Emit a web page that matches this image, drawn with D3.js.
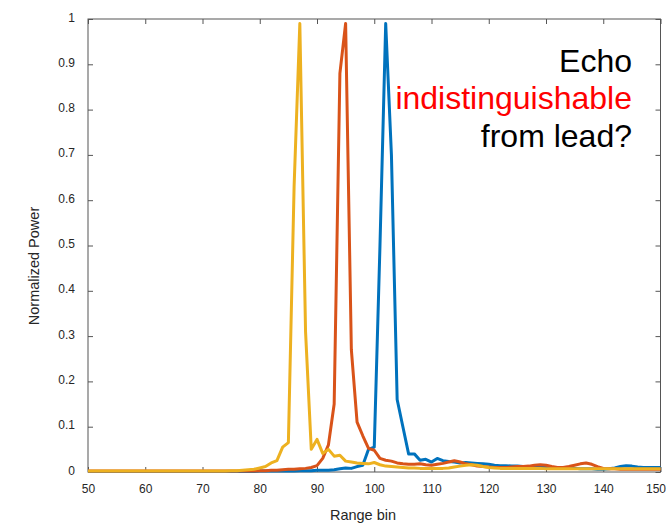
<!DOCTYPE html>
<html>
<head>
<meta charset="utf-8">
<script src="https://cdn.jsdelivr.net/npm/d3@7/dist/d3.min.js"></script>
<style>
  html, body { margin: 0; padding: 0; background: #fff; }
  svg { display: block; font-family: "Liberation Sans", Arial, Helvetica, sans-serif; }
</style>
</head>
<body>
<svg id="chart" width="666" height="523"></svg>
<script>
// ---- data ----
const binStart = 50;
const binEnd = 150;
const xTicks = [50, 60, 70, 80, 90, 100, 110, 120, 130, 140, 150];
const yTicks = [0, 0.1, 0.2, 0.3, 0.4, 0.5, 0.6, 0.7, 0.8, 0.9, 1];
const yTickLabels = ["0", "0.1", "0.2", "0.3", "0.4", "0.5", "0.6", "0.7", "0.8", "0.9", "1"];

// bins 50..150
const seriesBlue = [
  0.001,0.001,0.001,0.001,0.001,0.001,0.001,0.001,0.001,0.001, // 50-59
  0.001,0.001,0.001,0.001,0.001,0.001,0.001,0.001,0.001,0.001, // 60-69
  0.001,0.001,0.001,0.001,0.001,0.001,0.001,0.001,0.001,0.001, // 70-79
  0.002,0.002,0.002,0.002,0.002,0.002,0.002,0.003,0.003,0.003, // 80-89
  0.004,0.004,0.004,0.005,0.007,0.009,0.008,0.012,0.015,0.05,  // 90-99
  0.055,0.5,0.99,0.70,0.16,0.10,0.04,0.04,0.026,0.028,         // 100-109
  0.022,0.03,0.025,0.023,0.022,0.02,0.021,0.02,0.019,0.018,    // 110-119
  0.017,0.015,0.014,0.014,0.013,0.013,0.012,0.012,0.011,0.01,  // 120-129
  0.01,0.009,0.009,0.008,0.008,0.008,0.007,0.007,0.007,0.006,  // 130-139
  0.006,0.007,0.009,0.012,0.014,0.013,0.011,0.01,0.01,0.01,    // 140-149
  0.01                                                          // 150
];
const seriesOrange = [
  0.002,0.002,0.002,0.002,0.002,0.002,0.002,0.002,0.002,0.002, // 50-59
  0.002,0.002,0.002,0.002,0.002,0.002,0.002,0.002,0.002,0.002, // 60-69
  0.002,0.002,0.002,0.002,0.002,0.002,0.002,0.002,0.002,0.002, // 70-79
  0.003,0.003,0.004,0.004,0.005,0.006,0.006,0.007,0.008,0.01,  // 80-89
  0.014,0.03,0.06,0.15,0.88,0.99,0.27,0.11,0.08,0.052,         // 90-99
  0.048,0.03,0.026,0.024,0.02,0.018,0.017,0.017,0.018,0.016,   // 100-109
  0.015,0.017,0.019,0.022,0.025,0.022,0.018,0.016,0.013,0.012, // 110-119
  0.011,0.01,0.01,0.01,0.011,0.012,0.012,0.013,0.015,0.016,    // 120-129
  0.015,0.012,0.01,0.01,0.012,0.015,0.018,0.02,0.017,0.012,    // 130-139
  0.008,0.007,0.007,0.006,0.006,0.006,0.006,0.006,0.006,0.006, // 140-149
  0.006                                                         // 150
];
const seriesYellow = [
  0.002,0.002,0.002,0.002,0.002,0.002,0.002,0.002,0.002,0.002, // 50-59
  0.002,0.002,0.002,0.002,0.002,0.002,0.002,0.002,0.002,0.002, // 60-69
  0.002,0.002,0.002,0.002,0.002,0.003,0.003,0.004,0.005,0.006, // 70-79
  0.009,0.012,0.02,0.025,0.055,0.065,0.63,0.99,0.31,0.05,      // 80-89
  0.072,0.041,0.05,0.035,0.037,0.024,0.022,0.02,0.019,0.018,   // 90-99
  0.021,0.016,0.013,0.012,0.011,0.01,0.009,0.009,0.008,0.008,  // 100-109
  0.008,0.008,0.008,0.009,0.011,0.013,0.015,0.016,0.015,0.012, // 110-119
  0.01,0.009,0.008,0.008,0.008,0.008,0.008,0.008,0.008,0.008,  // 120-129
  0.007,0.007,0.007,0.007,0.007,0.007,0.007,0.007,0.007,0.007, // 130-139
  0.007,0.007,0.007,0.007,0.007,0.007,0.007,0.007,0.007,0.007, // 140-149
  0.007                                                         // 150
];
const seriesNames = ["blue", "orange", "yellow"];
const seriesColors = ["#0072BD", "#D95319", "#EDB120"];
const titleLines = [
  { text: "Echo", color: "#000000" },
  { text: "indistinguishable", color: "#FF0000" },
  { text: "from lead?", color: "#000000" }
];
const xLabel = "Range bin";
const yLabel = "Normalized Power";

// ---- layout ----
const svg = d3.select("#chart");
const margin = { left: 88, right: 5.5, top: 19, bottom: 51 };
const W = 666, H = 523;
const x0 = margin.left, x1 = W - margin.right;
const y0 = H - margin.bottom, y1 = margin.top;

const x = d3.scaleLinear().domain([binStart, binEnd]).range([x0, x1]);
const y = d3.scaleLinear().domain([0, 1]).range([y0, y1]);

const axisColor = "#555555";
const textColor = "#262626";

// box
svg.append("rect")
  .attr("x", x0).attr("y", y1)
  .attr("width", x1 - x0).attr("height", y0 - y1)
  .attr("fill", "none").attr("stroke", axisColor).attr("stroke-width", 1);

function styleAxis(g) {
  g.select(".domain").remove();
  g.selectAll(".tick line").attr("stroke", axisColor);
  g.selectAll(".tick text").attr("fill", textColor).attr("font-size", 12)
    .attr("font-family", "'Liberation Sans', Arial, Helvetica, sans-serif");
}

// bottom
svg.append("g").attr("transform", `translate(0,${y0})`)
  .call(d3.axisBottom(x).tickValues(xTicks).tickSize(-5).tickPadding(12).tickFormat(d3.format("d")))
  .call(styleAxis)
  .call(g => g.selectAll(".tick text")
    .filter(d => d === binEnd)
    .attr("text-anchor", "end")
    .attr("x", W - x1 - 0.5));
// top
svg.append("g").attr("transform", `translate(0,${y1})`)
  .call(d3.axisTop(x).tickValues(xTicks).tickSize(-5).tickFormat(""))
  .call(styleAxis);
// left
svg.append("g").attr("transform", `translate(${x0},0)`)
  .call(d3.axisLeft(y).tickValues(yTicks).tickSize(-5).tickPadding(13).tickFormat((d, i) => yTickLabels[i]))
  .call(styleAxis)
  .call(g => g.selectAll(".tick text").attr("dy", "0.17em"));
// right
svg.append("g").attr("transform", `translate(${x1},0)`)
  .call(d3.axisRight(y).tickValues(yTicks).tickSize(-5).tickFormat(""))
  .call(styleAxis);

// labels
svg.append("text")
  .attr("x", 363).attr("y", 520)
  .attr("text-anchor", "middle")
  .attr("font-size", 14.5).attr("fill", textColor)
  .text(xLabel);
svg.append("text")
  .attr("transform", `translate(38.5,266) rotate(-90)`)
  .attr("text-anchor", "middle")
  .attr("font-size", 14.5).attr("fill", textColor)
  .text(yLabel);

// lines
const bins = d3.range(binStart, binEnd + 1);
const allSeries = [seriesBlue, seriesOrange, seriesYellow];
const line = d3.line().x((d, i) => x(bins[i])).y(d => y(d));
allSeries.forEach((s, k) => {
  svg.append("path")
    .datum(s)
    .attr("class", "series-" + seriesNames[k])
    .attr("d", line)
    .attr("fill", "none")
    .attr("stroke", seriesColors[k])
    .attr("stroke-width", 3)
    .attr("stroke-linejoin", "round");
});

// annotation
const title = svg.append("g");
titleLines.forEach((l, i) => {
  title.append("text")
    .attr("x", 632).attr("y", 71.5 + i * 37.5)
    .attr("text-anchor", "end")
    .attr("font-size", 32)
    .attr("fill", l.color)
    .text(l.text);
});
</script>
</body>
</html>
